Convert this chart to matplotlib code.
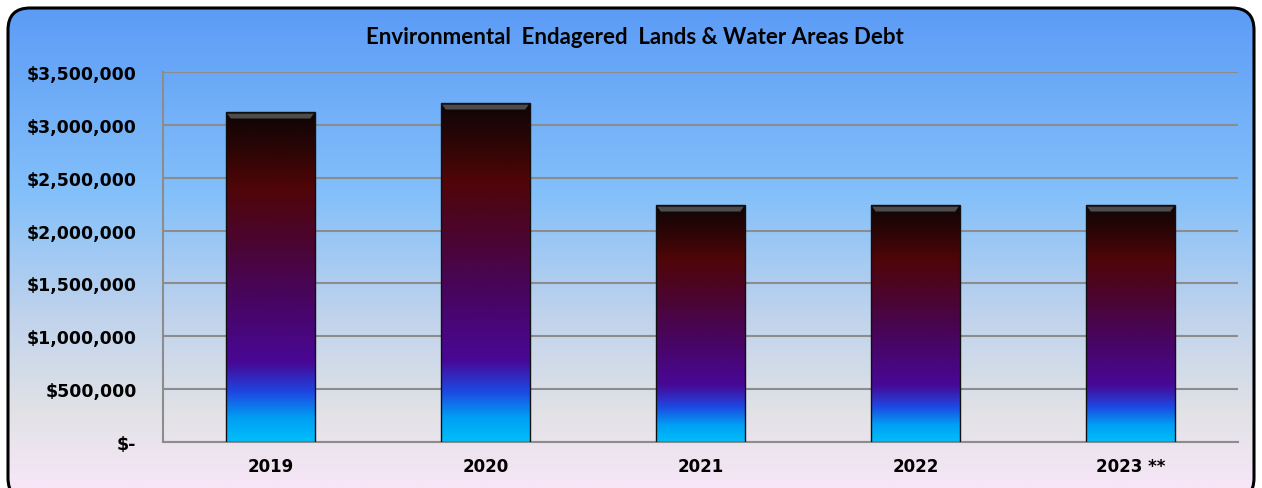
import numpy as np
import matplotlib
matplotlib.use('Agg')
import matplotlib.pyplot as plt
from matplotlib.colors import LinearSegmentedColormap
from matplotlib.patches import FancyBboxPatch, Polygon

years = ['2019', '2020', '2021', '2022', '2023 **']
debt = [3120000, 3205000, 2240000, 2240000, 2240000]
yticks = [0, 500000, 1000000, 1500000, 2000000, 2500000, 3000000, 3500000]
ylabels = ['$-', '$500,000', '$1,000,000', '$1,500,000', '$2,000,000',
           '$2,500,000', '$3,000,000', '$3,500,000']
title = 'Environmental  Endagered  Lands & Water Areas Debt'

W, H = 1262, 489
dpi = 100.0
fig = plt.figure(figsize=(W / dpi, H / dpi), dpi=dpi, facecolor='white')

# background panel with rounded border and vertical gradient
bg = fig.add_axes([0, 0, 1, 1], frameon=False)
bg.set_xlim(0, W)
bg.set_ylim(0, H)
bg.set_xticks([]), bg.set_yticks([])
bg_cmap = LinearSegmentedColormap.from_list('bg', [
    (0.00, (247/255, 230/255, 247/255)),
    (0.15, (226/255, 226/255, 230/255)),
    (0.35, (192/255, 211/255, 236/255)),
    (0.60, (132/255, 192/255, 250/255)),
    (1.00, (90/255, 154/255, 246/255)),
])
grad = np.linspace(0, 1, 256).reshape(-1, 1)
box = FancyBboxPatch((8, -12), W - 16, H - 9 + 12,
                     boxstyle='round,pad=0,rounding_size=22',
                     facecolor='none', edgecolor='black', lw=2.2, zorder=2)
bg.add_patch(box)
im = bg.imshow(grad, cmap=bg_cmap, origin='lower', aspect='auto',
               extent=[0, W, 0, H], zorder=1)
im.set_clip_path(box)

ax = fig.add_axes([163 / W, 46 / H, (1238 - 163) / W, (443 - 73) / H])
ax.patch.set_alpha(0)
ax.set_xlim(-0.5, len(years) - 0.5)
ax.set_ylim(0, 3500000)
ax.set_yticks(yticks)
ax.set_yticklabels(ylabels)
ax.set_xticks(range(len(years)))
ax.set_xticklabels(years)
ax.tick_params(length=0, labelsize=12)
ax.tick_params(axis='y', labelsize=12.5, pad=19)
ax.tick_params(axis='x', pad=11)
for lab in ax.get_xticklabels() + ax.get_yticklabels():
    lab.set_fontweight('bold')
ax.grid(axis='y', color='#8c8c8c', lw=1.5)
ax.set_axisbelow(True)
for s in ['top', 'right']:
    ax.spines[s].set_visible(False)
for s in ['left', 'bottom']:
    ax.spines[s].set_color('#8c8c8c')
    ax.spines[s].set_linewidth(1.5)

bar_cmap = LinearSegmentedColormap.from_list('bar', [
    (0.00, (0/255, 190/255, 250/255)),
    (0.07, (0/255, 160/255, 245/255)),
    (0.15, (30/255, 70/255, 225/255)),
    (0.24, (72/255, 8/255, 150/255)),
    (0.42, (72/255, 5/255, 100/255)),
    (0.60, (75/255, 5/255, 50/255)),
    (0.77, (80/255, 5/255, 8/255)),
    (0.90, (40/255, 5/255, 5/255)),
    (1.00, (15/255, 5/255, 5/255)),
])
width = 0.41
bars = ax.bar(range(len(years)), debt, width=width, color='none',
              edgecolor='#101010', lw=1.0, zorder=3)
for b in bars:
    x0, w, h = b.get_x(), b.get_width(), b.get_height()
    g = ax.imshow(grad, cmap=bar_cmap, origin='lower', aspect='auto',
                  extent=[x0, x0 + w, 0, h], zorder=2.5)
    g.set_clip_path(b)
    # bevel highlight at top
    bh = 60000
    ins = 0.02
    ax.add_patch(Polygon([(x0 + 0.004, h - 14000), (x0 + w - 0.004, h - 14000),
                          (x0 + w - ins, h - bh), (x0 + ins, h - bh)],
                         closed=True, facecolor='#4c4c4c', edgecolor='none',
                         zorder=3.5))
ax.set_xlim(-0.5, len(years) - 0.5)
ax.set_ylim(0, 3500000)

fig.text(635 / W, 1 - 37 / H, title, ha='center', va='center',
         fontsize=16, fontweight='bold', family='Lato')

fig.savefig('out.png', dpi=dpi, facecolor='white')
